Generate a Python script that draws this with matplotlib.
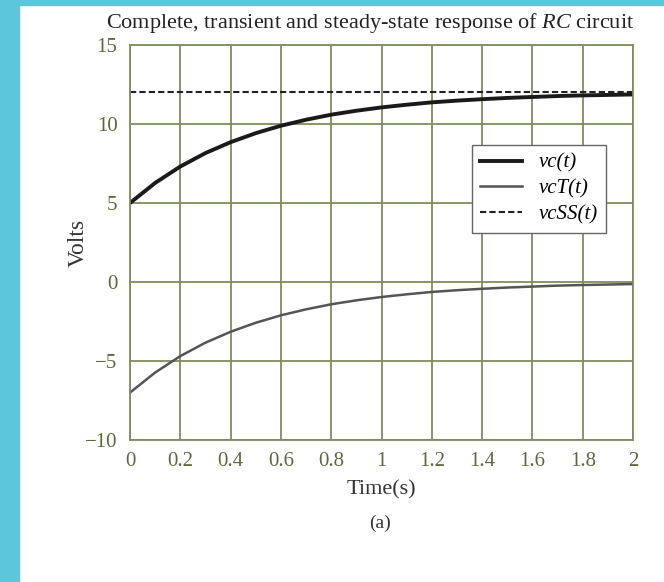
import matplotlib.pyplot as plt
from matplotlib.patches import Rectangle

# Values.
t = [0.0, 0.1, 0.2, 0.3, 0.4, 0.5, 0.6, 0.7, 0.8, 0.9, 1.0,
     1.1, 1.2, 1.3, 1.4, 1.5, 1.6, 1.7, 1.8, 1.9, 2.0]
vc = [5.0, 6.27, 7.31, 8.16, 8.85, 9.42, 9.89, 10.27, 10.59, 10.84, 11.05,
      11.22, 11.37, 11.48, 11.57, 11.65, 11.71, 11.77, 11.81, 11.84, 11.87]
vcT = [-7.0, -5.73, -4.69, -3.84, -3.15, -2.58, -2.11, -1.73, -1.41, -1.16, -0.95,
       -0.78, -0.63, -0.52, -0.43, -0.35, -0.29, -0.23, -0.19, -0.16, -0.13]
vcSS = [12.0] * len(t)

x_ticks = [0, 0.2, 0.4, 0.6, 0.8, 1, 1.2, 1.4, 1.6, 1.8, 2]
x_labels = ["0", "0.2", "0.4", "0.6", "0.8", "1", "1.2", "1.4", "1.6", "1.8", "2"]
y_ticks = [-10, -5, 0, 5, 10, 15]
y_labels = ["\u221210", "\u22125", "0", "5", "10", "15"]

plt.rcParams["font.family"] = ["Liberation Serif", "DejaVu Serif"]
plt.rcParams["mathtext.fontset"] = "custom"
plt.rcParams["mathtext.rm"] = "Liberation Serif"
plt.rcParams["mathtext.it"] = "Liberation Serif:italic"

grid_col = "#7f8c5e"
tick_col = "#5c6840"

fig = plt.figure(figsize=(6.64, 5.82), dpi=100)

# Cyan frame strips of the slide.
fig.patches.append(Rectangle((0, 0), 19 / 664, 1, transform=fig.transFigure,
                             color="#5bc6dc", zorder=0))
fig.patches.append(Rectangle((0, 1 - 5 / 582), 1, 5 / 582, transform=fig.transFigure,
                             color="#5bc6dc", zorder=0))

ax = fig.add_axes([130 / 664, 1 - 440 / 582, 503 / 664, 395 / 582])

ax.plot(t, vc, color="#1a1a1a", lw=2.8, label="vc(t)")
ax.plot(t, vcT, color="#555555", lw=1.8, label="vcT(t)")
ax.plot(t, vcSS, color="#222222", lw=1.5, ls=(0, (3, 1.5)), label="vcSS(t)")

ax.set_xlim(0, 2)
ax.set_ylim(-10, 15)
ax.set_xticks(x_ticks)
ax.set_xticklabels(x_labels)
ax.set_yticks(y_ticks)
ax.set_yticklabels(y_labels)
ax.tick_params(length=0, labelsize=15, labelcolor=tick_col)
ax.tick_params(axis="y", pad=9)
ax.tick_params(axis="x", pad=9)
ax.grid(True, color=grid_col, lw=1.3)
ax.set_axisbelow(True)
for s in ax.spines.values():
    s.set_color(grid_col)
    s.set_linewidth(1.3)

ax.set_title("Complete, transient and steady-state response of $\\mathit{RC}$ circuit",
             fontsize=16, color="#222222", pad=12, x=0.478)
ax.set_xlabel("Time(s)", fontsize=16, color="#333333", labelpad=6)
ax.set_ylabel("Volts", fontsize=17, color="#333333", labelpad=-3)

leg = ax.legend(loc="upper right", bbox_to_anchor=(0.946, 0.747),
                prop={"style": "italic", "size": 15}, frameon=True,
                fancybox=False, edgecolor="#666666", framealpha=1,
                handlelength=2.0, borderpad=0.4, labelspacing=0.3,
                handletextpad=0.8, borderaxespad=0)
leg.get_frame().set_linewidth(1.0)

fig.text(380 / 664, 1 - 523 / 582, "(a)", fontsize=14, color="#333333",
         ha="center", va="center")

fig.savefig("out.png", dpi=100)
